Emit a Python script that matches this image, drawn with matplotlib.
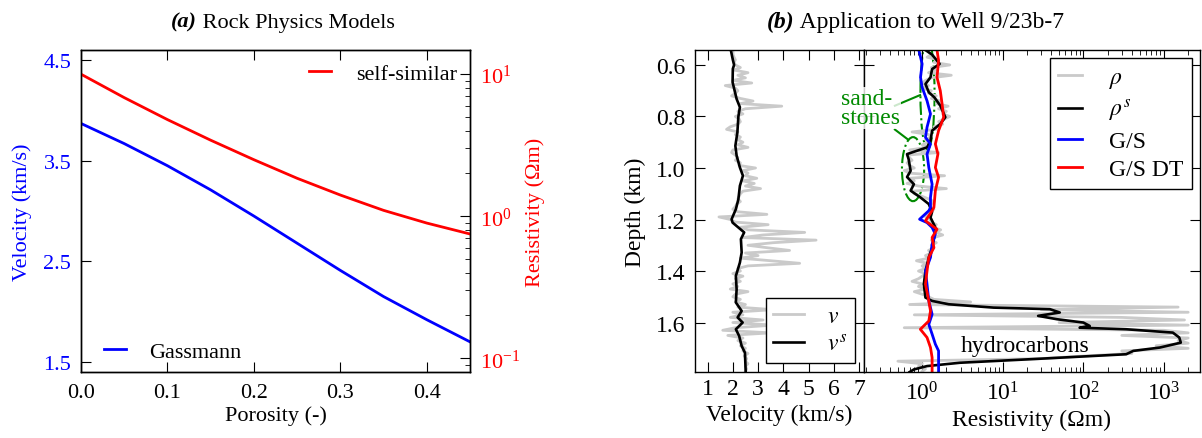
import numpy as np
import matplotlib
matplotlib.use("Agg")
import matplotlib.pyplot as plt
from matplotlib.patches import Ellipse

# ---------------- panel (a): rock physics models ----------------
porosity = [0.0, 0.05, 0.10, 0.15, 0.20, 0.25, 0.30, 0.35, 0.40, 0.45]
vel_gassmann = [3.87, 3.67, 3.45, 3.21, 2.95, 2.68, 2.41, 2.15, 1.92, 1.70]
res_selfsim = [10.0, 6.84, 4.79, 3.43, 2.50, 1.85, 1.41, 1.10, 0.895, 0.75]

# ---------------- panel (b): well 9/23b-7 ----------------
# raw logs sampled every 10 m
depth_log = np.arange(0.54, 1.795, 0.01)
v_log = [1.95, 2.0, 2.0, 2.05, 2.1, 2.05, 2.1, 2.3, 2.05, 2.6,
         2.2, 2.5, 2.0, 2.75, 1.7, 2.1, 2.2, 2.1, 1.95, 2.3,
         2.8, 2.3, 3.94, 2.5, 2.2, 2.4, 2.1, 2.25, 2.3, 2.2,
         1.9, 1.75, 2.2, 2.1, 2.3, 2.2, 2.4, 2.2, 2.6, 2.0,
         1.95, 2.1, 2.2, 2.1, 2.3, 2.25, 2.9, 2.4, 2.6, 2.5,
         2.95, 2.4, 2.85, 2.5, 3.1, 2.4, 2.3, 2.25, 2.2, 2.3,
         2.15, 2.1, 2.0, 2.2, 3.35, 1.45, 1.9, 2.1, 3.4, 2.3,
         2.6, 4.85, 3.2, 2.4, 5.3, 3.6, 2.6, 3.4, 4.25, 2.5,
         3.0, 2.3, 3.5, 4.65, 2.6, 2.2, 2.3, 2.0, 2.4, 2.1,
         2.3, 2.0, 2.2, 1.9, 2.6, 2.1, 2.0, 2.3, 2.1, 2.5,
         2.2, 3.6, 2.0, 2.4, 1.9, 3.2, 2.0, 3.6, 2.1, 1.6,
         3.5, 1.8, 2.4, 2.2, 2.5, 2.3, 2.5, 2.4, 2.6, 2.45,
         2.55, 2.5, 2.6, 2.5, 2.55, 2.5]
rho_log = [1.1, 1.2, 1.3, 1.15, 1.6, 1.4, 2.2, 1.3, 1.5, 1.2,
           2.3, 1.3, 1.1, 1.0, 1.2, 1.0, 1.3, 1.2, 1.5, 1.3,
           1.7, 1.5, 2.1, 1.6, 2.0, 1.8, 2.2, 1.9, 1.6, 1.8,
           1.4, 1.5, 0.75, 1.2, 1.3, 1.1, 1.2, 1.0, 1.15, 0.7,
           1.6, 0.65, 0.7, 0.75, 0.65, 0.7, 0.8, 0.6, 0.7, 1.9,
           0.7, 0.8, 0.65, 0.9, 2.0, 0.75, 0.8, 1.0, 1.2, 1.4,
           1.3, 1.25, 1.4, 1.3, 1.2, 1.1, 1.25, 1.3, 1.5, 1.35,
           1.7, 1.5, 1.8, 1.4, 1.3, 1.5, 1.3, 1.4, 1.2, 1.3,
           1.1, 1.2, 0.85, 1.15, 1.0, 1.1, 0.9, 1.1, 1.0, 0.9,
           0.75, 1.0, 0.9, 1.1, 0.8, 1.0, 1.2, 1.4, 4.0, 0.7,
           1500, 30, 2000, 0.8, 300, 1800, 50, 2000, 0.6, 1000,
           2000, 300, 2000, 1500, 2000, 800, 2000, 300, 400, 100,
           30, 0.5, 1.0, 0.9, 1.1, 1.0]

# smoothed velocity
depth_vs = [0.542, 0.58, 0.60, 0.615, 0.667, 0.732, 0.764, 0.80, 0.862, 0.914,
            0.952, 0.998, 1.03, 1.069, 1.121, 1.16, 1.199, 1.212, 1.25, 1.276,
            1.328, 1.367, 1.419, 1.471, 1.522, 1.555, 1.58, 1.60, 1.626, 1.652,
            1.691, 1.717, 1.792]
v_smooth = [1.92, 2.0, 2.05, 2.0, 1.99, 2.15, 2.28, 2.22, 2.18, 2.10,
            2.15, 2.28, 2.40, 2.28, 2.22, 2.12, 1.95, 1.99, 2.45, 2.32,
            2.35, 2.28, 2.12, 2.15, 2.12, 2.35, 2.19, 2.39, 2.12, 2.25,
            2.35, 2.48, 2.51]

# smoothed resistivity
depth_rs = [0.542, 0.56, 0.596, 0.616, 0.648, 0.674, 0.706, 0.726, 0.758, 0.803,
            0.829, 0.855, 0.894, 0.92, 0.946, 0.966, 1.011, 1.035, 1.063, 1.088,
            1.114, 1.14, 1.17, 1.192, 1.231, 1.27, 1.309, 1.347, 1.40, 1.451,
            1.503, 1.516, 1.529, 1.542, 1.548, 1.561, 1.574, 1.587, 1.60, 1.613,
            1.62, 1.626, 1.639, 1.658, 1.678, 1.697, 1.71, 1.723, 1.743, 1.756,
            1.769, 1.782, 1.792]
rho_smooth = [1.10, 1.33, 1.65, 1.33, 1.27, 1.10, 1.21, 1.42, 1.68, 1.94,
              1.68, 1.33, 1.27, 1.15, 0.65, 0.68, 0.72, 0.65, 0.79, 0.72,
              0.95, 1.21, 1.33, 1.27, 1.46, 1.41, 1.33, 1.21, 1.10, 1.05,
              1.10, 1.33, 2.14, 7.7, 38.5, 51, 27.5, 47, 100, 120,
              90, 340, 1290, 1550, 1620, 890, 417, 340, 20, 2.95,
              1.15, 0.79, 0.70]

# Gassmann / self-similar prediction
depth_gs = [0.542, 0.596, 0.648, 0.687, 0.739, 0.79, 0.842, 0.881, 0.907, 0.946,
            0.998, 1.063, 1.114, 1.153, 1.166, 1.199, 1.212, 1.231, 1.257, 1.296,
            1.347, 1.40, 1.451, 1.516, 1.568, 1.607, 1.645, 1.684, 1.71, 1.792]
rho_gs = [0.91, 1.0, 0.955, 1.0, 1.15, 1.27, 1.15, 1.10, 1.27, 1.15,
          1.21, 1.33, 1.27, 1.27, 1.21, 0.93, 1.15, 1.33, 1.46, 1.33,
          1.27, 1.10, 1.15, 1.21, 1.33, 1.21, 1.33, 1.46, 1.60, 1.60]

# same, with DT log
depth_gsdt = [0.542, 0.583, 0.648, 0.70, 0.752, 0.803, 0.855, 0.907, 0.946, 0.998,
              1.036, 1.088, 1.153, 1.166, 1.205, 1.238, 1.27, 1.309, 1.347, 1.40,
              1.451, 1.516, 1.555, 1.594, 1.626, 1.658, 1.697, 1.736, 1.792]
rho_gsdt = [1.53, 1.60, 1.53, 1.68, 1.77, 1.85, 1.60, 1.46, 1.57, 1.46,
            1.60, 1.46, 1.40, 1.33, 1.10, 1.53, 1.33, 1.40, 1.21, 1.15,
            1.10, 1.21, 1.27, 1.21, 0.95, 1.15, 1.27, 1.33, 1.33]

GRAY = "#cacaca"
GREEN = "#008a00"
FS_B = 17  # panel (b) was drawn a bit larger

plt.rcParams["font.family"] = ["Liberation Serif", "DejaVu Serif"]
plt.rcParams["mathtext.fontset"] = "stix"
plt.rcParams["font.size"] = 16
plt.rcParams["xtick.direction"] = "in"
plt.rcParams["ytick.direction"] = "in"
plt.rcParams["xtick.major.size"] = 7
plt.rcParams["ytick.major.size"] = 7
plt.rcParams["xtick.minor.size"] = 3.5
plt.rcParams["ytick.minor.size"] = 3.5
plt.rcParams["axes.linewidth"] = 1.0
plt.rcParams["legend.fontsize"] = 16

fig = plt.figure(figsize=(12.02, 4.39), dpi=100)
ax_a = fig.add_axes([0.0674, 0.1503, 0.3236, 0.7335])
ax_a2 = ax_a.twinx()
ax_v = fig.add_axes([0.5782, 0.1503, 0.1406, 0.7335])
ax_r = fig.add_axes([0.7188, 0.1503, 0.2795, 0.7335], sharey=ax_v)

# --- (a) ---
ax_a.plot(porosity, vel_gassmann, color="blue", lw=2, label="Gassmann")
ax_a2.plot(porosity, res_selfsim, color="red", lw=2, label="self-similar")
ax_a2.set_yscale("log")
ax_a.set_xlim(0, 0.45)
ax_a.set_ylim(1.4, 4.6)
ax_a2.set_ylim(0.08, 14.8)
ax_a.set_xticks([0.0, 0.1, 0.2, 0.3, 0.4])
ax_a.set_yticks([1.5, 2.5, 3.5, 4.5])
ax_a.tick_params(axis="x", top=True, pad=8)
ax_a.tick_params(axis="y", labelcolor="blue", pad=7)
ax_a2.tick_params(axis="y", which="both", labelcolor="red", pad=7)
ax_a.set_xlabel("Porosity (-)", labelpad=2)
ax_a.set_ylabel("Velocity (km/s)", color="blue", labelpad=8)
ax_a2.set_ylabel("Resistivity (Ωm)", color="red", labelpad=4)
ax_a.legend(loc="lower left", bbox_to_anchor=(0.034, 0.0), frameon=False,
            handlelength=1.0, handletextpad=1.0, borderaxespad=0.05)
ax_a2.legend(loc="upper right", frameon=False, handlelength=1.0, handletextpad=1.1,
             borderaxespad=0.2)

t1 = fig.text(0.142, 0.925, "(a)", fontweight="bold", fontstyle="italic", va="bottom")
ax_a.annotate(" Rock Physics Models", xy=(1, 0), xycoords=t1, va="bottom")

# --- (b) velocity ---
ax_v.plot(v_log, depth_log, color=GRAY, lw=2.0, label="$v$")
ax_v.plot(v_smooth, depth_vs, color="black", lw=1.9, label="$v^s$")
ax_v.set_xlim(0.5, 7.2)
ax_v.set_ylim(1.792, 0.542)
ax_v.set_xticks(range(1, 8))
ax_v.set_yticks([0.6, 0.8, 1.0, 1.2, 1.4, 1.6])
ax_v.tick_params(top=True, right=True, labelsize=FS_B)
ax_v.tick_params(axis="x", pad=4)
ax_v.tick_params(axis="y", pad=7)
ax_v.set_xlabel("Velocity (km/s)", fontsize=FS_B, labelpad=4)
ax_v.set_ylabel("Depth (km)", fontsize=FS_B, labelpad=7)
leg_v = ax_v.legend(loc="lower right", fancybox=False, edgecolor="black", framealpha=1,
                    handlelength=1.3, handletextpad=1.0, borderaxespad=0.4,
                    labelspacing=0.3, borderpad=0.3, fontsize=FS_B)
leg_v.get_frame().set_linewidth(1.0)

# --- (b) resistivity ---
ax_r.plot(rho_log, depth_log, color=GRAY, lw=2.0, label=r"$\rho$")
ax_r.plot(rho_smooth, depth_rs, color="black", lw=1.9, label=r"$\rho^s$")
ax_r.plot(rho_gs, depth_gs, color="blue", lw=2, label="G/S")
ax_r.plot(rho_gsdt, depth_gsdt, color="red", lw=2, label="G/S DT")
ax_r.set_xscale("log")
ax_r.set_xlim(0.19, 2800)
ax_r.tick_params(axis="x", which="both", top=True, pad=7, labelsize=FS_B)
ax_r.tick_params(axis="y", left=True, right=True, labelleft=False)
ax_r.set_xlabel("Resistivity (Ωm)", fontsize=FS_B, labelpad=3)
leg_r = ax_r.legend(loc="upper right", fancybox=False, edgecolor="black", framealpha=1,
                    handlelength=1.0, handletextpad=1.15, borderaxespad=0.35,
                    labelspacing=0.3, borderpad=0.35, fontsize=FS_B)
leg_r.get_frame().set_linewidth(1.0)

ax_r.text(19, 1.69, "hydrocarbons", ha="center", va="center", fontsize=FS_B)

# sandstone annotation (axes fractions of the resistivity panel)
ax_r.add_patch(Ellipse((0.189, 0.863), 0.042, 0.342, transform=ax_r.transAxes,
                       fill=False, edgecolor=GREEN, lw=1.5, ls="-."))
ax_r.add_patch(Ellipse((0.146, 0.630), 0.066, 0.199, transform=ax_r.transAxes,
                       fill=False, edgecolor=GREEN, lw=1.5, ls="-."))
ax_r.plot([0.092, 0.167], [0.827, 0.860], color=GREEN, lw=1.5,
          transform=ax_r.transAxes, clip_on=False)
ax_r.plot([0.092, 0.131], [0.753, 0.722], color=GREEN, lw=1.5,
          transform=ax_r.transAxes, clip_on=False)
ax_r.text(-0.069, 0.820, "sand-\nstones", color=GREEN, ha="left", va="center",
          linespacing=0.85, transform=ax_r.transAxes, zorder=10, fontsize=FS_B,
          bbox=dict(facecolor="white", edgecolor="none", alpha=0.8, pad=1))

t2 = fig.text(0.638, 0.925, "(b)", fontweight="bold", fontstyle="italic", va="bottom",
              fontsize=FS_B)
ax_r.annotate(" Application to Well 9/23b-7", xy=(1, 0), xycoords=t2, va="bottom",
              fontsize=FS_B)

fig.savefig("out.png", dpi=100)
